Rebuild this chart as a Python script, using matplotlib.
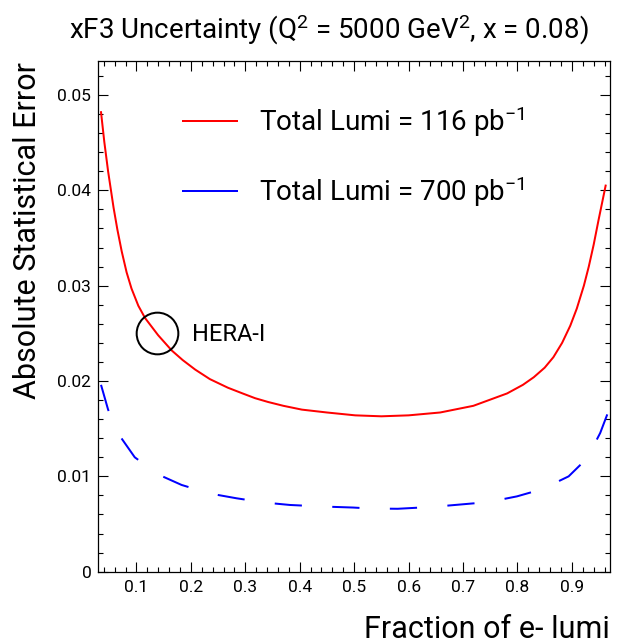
import numpy as np
import matplotlib
matplotlib.use("Agg")
import matplotlib.pyplot as plt
from matplotlib.lines import Line2D

plt.rcParams['font.family'] = ['Roboto', 'DejaVu Sans']
plt.rcParams['mathtext.default'] = 'regular'

# fraction of e- lumi (x) and absolute statistical error of xF3
frac_116 = [0.035, 0.041, 0.048, 0.058, 0.065, 0.073, 0.082, 0.091, 0.1035, 0.116,
            0.140, 0.165, 0.185, 0.208, 0.235, 0.268, 0.295, 0.318, 0.342, 0.370,
            0.404, 0.45, 0.502, 0.55, 0.60, 0.658, 0.719, 0.781, 0.810, 0.830,
            0.850, 0.866, 0.882, 0.897, 0.909, 0.922, 0.931, 0.940, 0.949, 0.962]
err_116 = [0.0482, 0.0451, 0.0420, 0.0382, 0.0359, 0.0336, 0.0314, 0.0297, 0.0279, 0.0266,
           0.0248, 0.0232, 0.0222, 0.0212, 0.0202, 0.0193, 0.0187, 0.0182, 0.0178, 0.0174,
           0.0170, 0.0167, 0.0164, 0.0163, 0.0164, 0.0167, 0.0174, 0.0187, 0.0196, 0.0204,
           0.0214, 0.0225, 0.0240, 0.0258, 0.0276, 0.0300, 0.0320, 0.0343, 0.0369, 0.0405]

frac_700 = [0.035, 0.048, 0.070, 0.097, 0.140, 0.183, 0.235, 0.284, 0.336, 0.382,
            0.44, 0.498, 0.529, 0.58, 0.645, 0.746, 0.799, 0.845, 0.894, 0.928,
            0.952, 0.965]
err_700 = [0.0196, 0.0170, 0.0142, 0.0120, 0.0102, 0.0091, 0.0082, 0.0077, 0.00725, 0.0070,
           0.00684, 0.00673, 0.00663, 0.0066, 0.0068, 0.0073, 0.0079, 0.00865, 0.0100, 0.0119,
           0.01455, 0.0165]

lumis = [116, 700]
hera_x = [0.137]
hera_y = [0.0250]

xticks = [0.1, 0.2, 0.3, 0.4, 0.5, 0.6, 0.7, 0.8, 0.9]
xticklabels = ['0.1', '0.2', '0.3', '0.4', '0.5', '0.6', '0.7', '0.8', '0.9']
yticks = [0, 0.01, 0.02, 0.03, 0.04, 0.05]
yticklabels = ['0', '0.01', '0.02', '0.03', '0.04', '0.05']

W, H = 619, 643
fig = plt.figure(figsize=(W / 100, H / 100), dpi=100)
ax = fig.add_axes([98.3 / W, 1 - 571.7 / H, (610 - 98.3) / W, (571.7 - 60.7) / H])
ax.set_xlim(0.03, 0.97)
ax.set_ylim(0, 0.0536)

lw = 1.44
ax.plot(frac_116, err_116, color='red', lw=lw)

# stretch the dash period a little so the dashed curve ends on a dash, as in ROOT
pts = ax.transData.transform(np.column_stack([frac_700, err_700]))
length = np.hypot(*np.diff(pts, axis=0).T).sum() * 72 / fig.dpi / lw
on, off = 13, 14.5
n = int(length / (on + off) - on / (on + off))
k = length / ((n + on / (on + off)) * (on + off))
ax.plot(frac_700, err_700, color='blue', lw=lw, dashes=(on * k, off * k))

ax.plot(hera_x, hera_y, 'o', mfc='none', mec='black', ms=30, mew=lw)
ax.text(0.2017, 0.02421, 'HERA-I', fontsize=17, va='baseline', ha='left')

ax.set_xticks(xticks)
ax.set_xticklabels(xticklabels)
ax.set_yticks(yticks)
ax.set_yticklabels(yticklabels)
ax.set_xticks(np.arange(0.04, 0.97, 0.02), minor=True)
ax.set_yticks(np.arange(0.002, 0.0536, 0.002), minor=True)
ax.tick_params(which='both', direction='in', top=True, right=True, width=0.8,
               labelsize=12.5, colors='black')
ax.tick_params(axis='x', which='both', pad=6)
ax.tick_params(axis='y', which='both', pad=5)
ax.tick_params(which='major', length=7)
ax.tick_params(which='minor', length=3.6)
for s in ax.spines.values():
    s.set_linewidth(0.9)

handles = [Line2D([], [], color='red', lw=lw), Line2D([], [], color='blue', lw=lw)]
labels = [f'Total Lumi = {l} pb$^{{-1}}$' for l in lumis]
ax.legend(handles, labels, loc='upper left', bbox_to_anchor=(0.166, 0.9147),
          frameon=False, fontsize=20, handlelength=1.94, handletextpad=0.79,
          labelspacing=1.28, borderpad=0, borderaxespad=0)

fig.text(329 / W, 1 - 39 / H, r'xF3 Uncertainty (Q$^{2}$ = 5000 GeV$^{2}$, x = 0.08)',
         fontsize=20, ha='center', va='baseline')
fig.text(610 / W, 1 - 638 / H, 'Fraction of e- lumi', fontsize=22, ha='right', va='baseline')
fig.text(13 / W, 1 - 62 / H, 'Absolute Statistical Error', fontsize=22, rotation=90,
         ha='right', va='top', rotation_mode='anchor')

fig.savefig('out.png', dpi=100)
